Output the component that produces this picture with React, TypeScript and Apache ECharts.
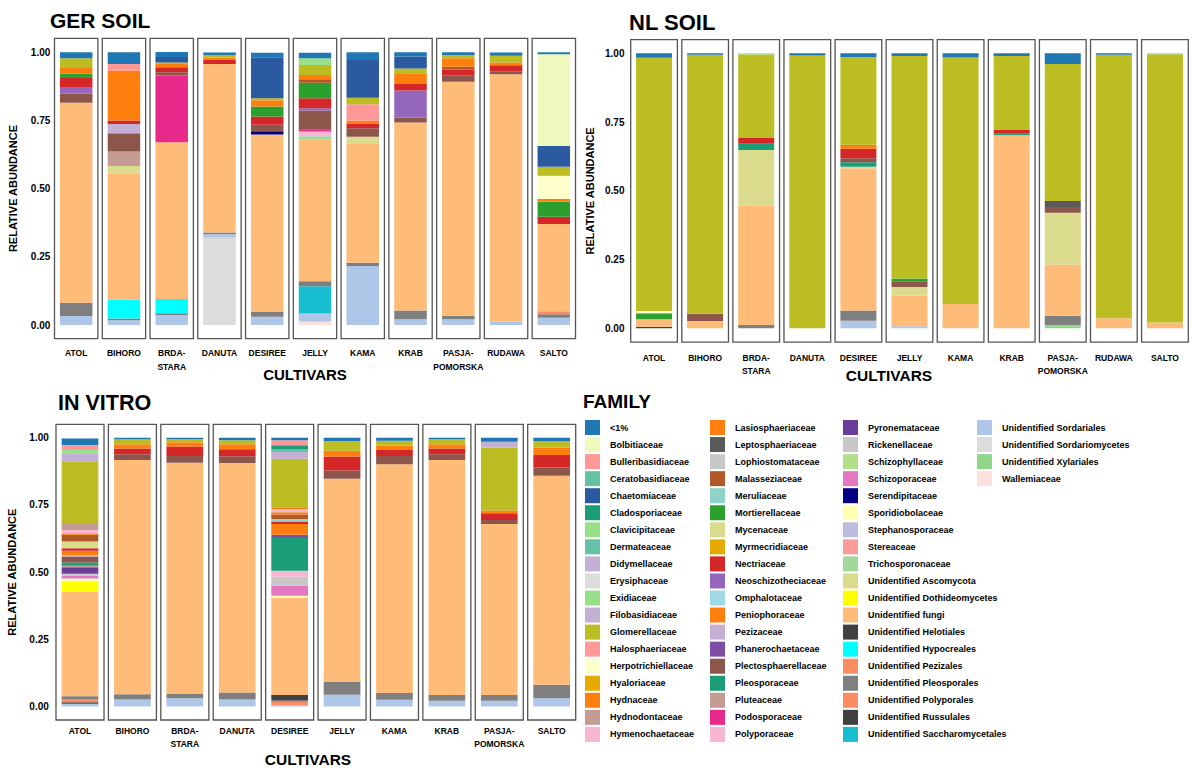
import React, { useEffect, useRef } from "react";
import * as echarts from "echarts";

// ---------- families (legend order = top-to-bottom order inside each bar) ----------
const FAMILIES = [
  "<1%", "Bolbitiaceae", "Bulleribasidiaceae", "Ceratobasidiaceae", "Chaetomiaceae",
  "Cladosporiaceae", "Clavicipitaceae", "Dermateaceae", "Didymellaceae", "Erysiphaceae",
  "Exidiaceae", "Filobasidiaceae", "Glomerellaceae", "Halosphaeriaceae", "Herpotrichiellaceae",
  "Hyaloriaceae", "Hydnaceae", "Hydnodontaceae", "Hymenochaetaceae",
  "Lasiosphaeriaceae", "Leptosphaeriaceae", "Lophiostomataceae", "Malasseziaceae", "Meruliaceae",
  "Mortierellaceae", "Mycenaceae", "Myrmecridiaceae", "Nectriaceae", "Neoschizotheciaceae",
  "Omphalotaceae", "Peniophoraceae", "Pezizaceae", "Phanerochaetaceae", "Plectosphaerellaceae",
  "Pleosporaceae", "Pluteaceae", "Podosporaceae", "Polyporaceae",
  "Pyronemataceae", "Rickenellaceae", "Schizophyllaceae", "Schizoporaceae", "Serendipitaceae",
  "Sporidiobolaceae", "Stephanosporaceae", "Stereaceae", "Trichosporonaceae",
  "Unidentified Ascomycota", "Unidentified Dothideomycetes", "Unidentified fungi",
  "Unidentified Helotiales", "Unidentified Hypocreales", "Unidentified Pezizales",
  "Unidentified Pleosporales", "Unidentified Polyporales", "Unidentified Russulales",
  "Unidentified Saccharomycetales",
  "Unidentified Sordariales", "Unidentified Sordariomycetes", "Unidentified Xylariales", "Wallemiaceae",
];

const FAMILY_COLORS = [
  "#1f77b4", "#f0f9bd", "#ff9896", "#66c2a5", "#2c5aa0",
  "#1b9e77", "#98df8a", "#66c2a5", "#c5b0d5", "#dcdcdc",
  "#98df8a", "#c5b0d5", "#bcbd22", "#ff9896", "#ffffcc",
  "#e6ab02", "#ff7f0e", "#c49c94", "#f7b6d2",
  "#ff7f0e", "#595959", "#c7c7c7", "#b15928", "#8dd3c7",
  "#2ca02c", "#dbdb8d", "#e6ab02", "#d62728", "#9467bd",
  "#9edae5", "#ff7f0e", "#c5b0d5", "#7e4fa5", "#8c564b",
  "#1b9e77", "#c49c94", "#e7298a", "#f7b6d2",
  "#6a3d9a", "#c7c7c7", "#b2df8a", "#e377c2", "#000080",
  "#ffffb3", "#bcbddc", "#fb9a99", "#a1d99b",
  "#dbdb8d", "#ffff00", "#ffbb78",
  "#404040", "#00ffff", "#fc8d62",
  "#7f7f7f", "#fc8d62", "#404040",
  "#17becf",
  "#aec7e8", "#dcdcdc", "#90d68a", "#fde0dd",
];

// ---------- categories & ticks ----------
const SOIL_CULTIVARS = ["ATOL", "BIHORO", "BRDA-\nSTARA", "DANUTA", "DESIREE", "JELLY", "KAMA", "KRAB", "PASJA-\nPOMORSKA", "RUDAWA", "SALTO"];
const VITRO_CULTIVARS = ["ATOL", "BIHORO", "BRDA-\nSTARA", "DANUTA", "DESIREE", "JELLY", "KAMA", "KRAB", "PASJA-\nPOMORSKA", "SALTO"];
const Y_TICKS = [0, 0.25, 0.5, 0.75, 1];
const PANEL_TITLES = ["GER SOIL", "NL SOIL", "IN VITRO"];

type Seg = [string, number];

// ---------- relative abundances (one list of [family, value] per cultivar) ----------
const GER_SOIL: Seg[][] = [
  [["<1%", 0.022], ["Glomerellaceae", 0.035], ["Hydnaceae", 0.021], ["Mortierellaceae", 0.016], ["Nectriaceae", 0.033], ["Neoschizotheciaceae", 0.024], ["Plectosphaerellaceae", 0.034], ["Unidentified fungi", 0.732], ["Unidentified Pleosporales", 0.049], ["Unidentified Sordariales", 0.033]],
  [["<1%", 0.043], ["Bulleribasidiaceae", 0.024], ["Hydnaceae", 0.183], ["Nectriaceae", 0.013], ["Pezizaceae", 0.033], ["Plectosphaerellaceae", 0.067], ["Pluteaceae", 0.053], ["Unidentified Ascomycota", 0.027], ["Unidentified fungi", 0.462], ["Unidentified Hypocreales", 0.07], ["Unidentified Pleosporales", 0.006], ["Unidentified Sordariales", 0.018]],
  [["<1%", 0.018], ["Chaetomiaceae", 0.02], ["Glomerellaceae", 0.006], ["Hydnaceae", 0.012], ["Nectriaceae", 0.018], ["Plectosphaerellaceae", 0.012], ["Podosporaceae", 0.244], ["Unidentified fungi", 0.575], ["Unidentified Hypocreales", 0.052], ["Unidentified Pleosporales", 0.006], ["Unidentified Sordariales", 0.037]],
  [["<1%", 0.01], ["Glomerellaceae", 0.008], ["Hydnaceae", 0.007], ["Nectriaceae", 0.017], ["Unidentified fungi", 0.617], ["Unidentified Pleosporales", 0.006], ["Unidentified Sordariales", 0.013], ["Unidentified Sordariomycetes", 0.32]],
  [["<1%", 0.018], ["Chaetomiaceae", 0.148], ["Glomerellaceae", 0.008], ["Hydnaceae", 0.022], ["Mortierellaceae", 0.037], ["Nectriaceae", 0.03], ["Plectosphaerellaceae", 0.024], ["Serendipitaceae", 0.012], ["Unidentified fungi", 0.65], ["Unidentified Pleosporales", 0.018], ["Unidentified Sordariales", 0.03]],
  [["<1%", 0.02], ["Clavicipitaceae", 0.024], ["Glomerellaceae", 0.037], ["Hydnaceae", 0.016], ["Malasseziaceae", 0.012], ["Mortierellaceae", 0.057], ["Nectriaceae", 0.037], ["Neoschizotheciaceae", 0.008], ["Plectosphaerellaceae", 0.071], ["Podosporaceae", 0.006], ["Polyporaceae", 0.017], ["Trichosporonaceae", 0.013], ["Unidentified fungi", 0.519], ["Unidentified Pleosporales", 0.018], ["Unidentified Saccharomycetales", 0.1], ["Unidentified Sordariales", 0.03], ["Wallemiaceae", 0.012]],
  [["<1%", 0.028], ["Chaetomiaceae", 0.138], ["Glomerellaceae", 0.024], ["Halosphaeriaceae", 0.061], ["Hydnaceae", 0.012], ["Nectriaceae", 0.015], ["Plectosphaerellaceae", 0.031], ["Unidentified Ascomycota", 0.027], ["Unidentified fungi", 0.435], ["Unidentified Pleosporales", 0.012], ["Unidentified Sordariales", 0.216]],
  [["<1%", 0.015], ["Chaetomiaceae", 0.044], ["Glomerellaceae", 0.018], ["Hydnaceae", 0.039], ["Nectriaceae", 0.024], ["Neoschizotheciaceae", 0.099], ["Plectosphaerellaceae", 0.018], ["Unidentified fungi", 0.689], ["Unidentified Pleosporales", 0.032], ["Unidentified Sordariales", 0.021]],
  [["<1%", 0.01], ["Glomerellaceae", 0.012], ["Hydnaceae", 0.031], ["Malasseziaceae", 0.01], ["Nectriaceae", 0.021], ["Plectosphaerellaceae", 0.024], ["Unidentified fungi", 0.857], ["Unidentified Pleosporales", 0.013], ["Unidentified Sordariales", 0.021]],
  [["<1%", 0.012], ["Glomerellaceae", 0.024], ["Hydnaceae", 0.01], ["Nectriaceae", 0.022], ["Plectosphaerellaceae", 0.011], ["Unidentified fungi", 0.907], ["Unidentified Sordariales", 0.012]],
  [["<1%", 0.007], ["Bolbitiaceae", 0.336], ["Chaetomiaceae", 0.076], ["Glomerellaceae", 0.033], ["Herpotrichiellaceae", 0.085], ["Hydnaceae", 0.01], ["Mortierellaceae", 0.055], ["Nectriaceae", 0.027], ["Unidentified fungi", 0.319], ["Unidentified Pezizales", 0.011], ["Unidentified Pleosporales", 0.013], ["Unidentified Sordariales", 0.027]],
];

const NL_SOIL: Seg[][] = [
  [["<1%", 0.016], ["Glomerellaceae", 0.921], ["Herpotrichiellaceae", 0.008], ["Mortierellaceae", 0.022], ["Unidentified fungi", 0.027], ["Unidentified Russulales", 0.006]],
  [["<1%", 0.005], ["Glomerellaceae", 0.942], ["Plectosphaerellaceae", 0.026], ["Unidentified fungi", 0.027]],
  [["Clavicipitaceae", 0.004], ["Glomerellaceae", 0.304], ["Nectriaceae", 0.021], ["Pleosporaceae", 0.022], ["Unidentified Ascomycota", 0.202], ["Unidentified fungi", 0.435], ["Unidentified Pleosporales", 0.012]],
  [["<1%", 0.008], ["Glomerellaceae", 0.992]],
  [["<1%", 0.013], ["Glomerellaceae", 0.319], ["Hydnaceae", 0.015], ["Nectriaceae", 0.034], ["Plectosphaerellaceae", 0.015], ["Pleosporaceae", 0.016], ["Unidentified Ascomycota", 0.006], ["Unidentified fungi", 0.517], ["Unidentified Pleosporales", 0.037], ["Unidentified Sordariales", 0.028]],
  [["<1%", 0.01], ["Glomerellaceae", 0.809], ["Mortierellaceae", 0.01], ["Plectosphaerellaceae", 0.021], ["Unidentified Ascomycota", 0.031], ["Unidentified fungi", 0.111], ["Unidentified Sordariales", 0.008]],
  [["<1%", 0.015], ["Glomerellaceae", 0.896], ["Unidentified fungi", 0.089]],
  [["<1%", 0.01], ["Glomerellaceae", 0.267], ["Nectriaceae", 0.015], ["Pleosporaceae", 0.006], ["Unidentified fungi", 0.702]],
  [["<1%", 0.039], ["Glomerellaceae", 0.498], ["Leptosphaeriaceae", 0.022], ["Plectosphaerellaceae", 0.021], ["Unidentified Ascomycota", 0.188], ["Unidentified fungi", 0.186], ["Unidentified Pleosporales", 0.034], ["Unidentified Xylariales", 0.012]],
  [["<1%", 0.005], ["Glomerellaceae", 0.958], ["Unidentified fungi", 0.037]],
  [["Exidiaceae", 0.003], ["Glomerellaceae", 0.976], ["Unidentified fungi", 0.021]],
];

const IN_VITRO: Seg[][] = [
  [["<1%", 0.024], ["Bulleribasidiaceae", 0.019], ["Clavicipitaceae", 0.012], ["Didymellaceae", 0.029], ["Glomerellaceae", 0.234], ["Hydnodontaceae", 0.022], ["Hymenochaetaceae", 0.012], ["Lasiosphaeriaceae", 0.006], ["Malasseziaceae", 0.025], ["Mycenaceae", 0.025], ["Nectriaceae", 0.009], ["Peniophoraceae", 0.016], ["Pezizaceae", 0.006], ["Plectosphaerellaceae", 0.022], ["Pleosporaceae", 0.012], ["Pluteaceae", 0.006], ["Pyronemataceae", 0.024], ["Rickenellaceae", 0.006], ["Schizoporaceae", 0.012], ["Sporidiobolaceae", 0.01], ["Unidentified Dothideomycetes", 0.04], ["Unidentified fungi", 0.388], ["Unidentified Pleosporales", 0.01], ["Unidentified Polyporales", 0.012], ["Unidentified Russulales", 0.006], ["Unidentified Sordariales", 0.01]],
  [["<1%", 0.006], ["Glomerellaceae", 0.018], ["Hydnaceae", 0.016], ["Nectriaceae", 0.021], ["Plectosphaerellaceae", 0.022], ["Unidentified fungi", 0.871], ["Unidentified Pleosporales", 0.02], ["Unidentified Sordariales", 0.026]],
  [["<1%", 0.006], ["Glomerellaceae", 0.011], ["Hydnaceae", 0.016], ["Nectriaceae", 0.035], ["Plectosphaerellaceae", 0.025], ["Unidentified fungi", 0.86], ["Unidentified Pleosporales", 0.016], ["Unidentified Sordariales", 0.031]],
  [["<1%", 0.009], ["Glomerellaceae", 0.015], ["Hydnaceae", 0.019], ["Nectriaceae", 0.026], ["Plectosphaerellaceae", 0.025], ["Unidentified fungi", 0.854], ["Unidentified Pleosporales", 0.026], ["Unidentified Sordariales", 0.026]],
  [["<1%", 0.009], ["Bulleribasidiaceae", 0.019], ["Cladosporiaceae", 0.016], ["Dermateaceae", 0.009], ["Didymellaceae", 0.025], ["Glomerellaceae", 0.181], ["Hydnaceae", 0.006], ["Hymenochaetaceae", 0.012], ["Lasiosphaeriaceae", 0.009], ["Malasseziaceae", 0.016], ["Meruliaceae", 0.01], ["Nectriaceae", 0.009], ["Peniophoraceae", 0.04], ["Phanerochaetaceae", 0.012], ["Pleosporaceae", 0.122], ["Polyporaceae", 0.022], ["Rickenellaceae", 0.034], ["Schizoporaceae", 0.037], ["Sporidiobolaceae", 0.006], ["Unidentified fungi", 0.363], ["Unidentified Helotiales", 0.019], ["Unidentified Pleosporales", 0.006], ["Unidentified Polyporales", 0.012], ["Unidentified Sordariales", 0.006]],
  [["<1%", 0.012], ["Glomerellaceae", 0.036], ["Hydnaceae", 0.022], ["Nectriaceae", 0.052], ["Plectosphaerellaceae", 0.031], ["Unidentified fungi", 0.756], ["Unidentified Pleosporales", 0.047], ["Unidentified Sordariales", 0.044]],
  [["<1%", 0.011], ["Glomerellaceae", 0.019], ["Hydnaceae", 0.016], ["Nectriaceae", 0.022], ["Plectosphaerellaceae", 0.031], ["Unidentified fungi", 0.851], ["Unidentified Pleosporales", 0.025], ["Unidentified Sordariales", 0.025]],
  [["<1%", 0.006], ["Glomerellaceae", 0.018], ["Hydnaceae", 0.016], ["Nectriaceae", 0.021], ["Plectosphaerellaceae", 0.022], ["Unidentified fungi", 0.874], ["Unidentified Pleosporales", 0.021], ["Unidentified Sordariales", 0.022]],
  [["<1%", 0.015], ["Didymellaceae", 0.021], ["Glomerellaceae", 0.235], ["Hydnaceae", 0.01], ["Nectriaceae", 0.025], ["Plectosphaerellaceae", 0.015], ["Unidentified fungi", 0.636], ["Unidentified Pleosporales", 0.021], ["Unidentified Sordariales", 0.022]],
  [["<1%", 0.012], ["Glomerellaceae", 0.025], ["Hydnaceae", 0.027], ["Nectriaceae", 0.047], ["Plectosphaerellaceae", 0.03], ["Unidentified fungi", 0.778], ["Unidentified Pleosporales", 0.05], ["Unidentified Sordariales", 0.031]],
];

// ---------- layout (styles/positions only) ----------
const FONT = "'Liberation Sans', Arial, Helvetica, sans-serif";
const AXIS_MIN = -0.05;
const AXIS_MAX = 1.05;

const PANELS = [
  { bars: GER_SOIL, cats: SOIL_CULTIVARS, left: 52.3, top: 38.4, width: 525.4, height: 300.3, barWidth: 32.5, yLabelMargin: 2, yNameGap: 34, xLabelMargin: 8,
    title: { x: 50, y: 20, size: 21 }, xName: { x: 305, y: 374, size: 15 } },
  { bars: NL_SOIL, cats: SOIL_CULTIVARS, left: 628.5, top: 39.6, width: 562, height: 302.5, barWidth: 36, yLabelMargin: 4, yNameGap: 33.5, xLabelMargin: 9,
    title: { x: 629, y: 22, size: 22 }, xName: { x: 889, y: 375.5, size: 15.5 } },
  { bars: IN_VITRO, cats: VITRO_CULTIVARS, left: 53.8, top: 424.3, width: 524.1, height: 295.7, barWidth: 36.7, yLabelMargin: 5, yNameGap: 36, xLabelMargin: 4,
    title: { x: 58, y: 403, size: 21.5 }, xName: { x: 308, y: 759, size: 15.5 } },
];

const LEGEND_COLUMNS = [
  { from: 0, to: 19, left: 585 },
  { from: 19, to: 38, left: 710 },
  { from: 38, to: 57, left: 843 },
  { from: 57, to: 61, left: 977 },
];

function buildOption(): any {
  const grid: any[] = [];
  const xAxis: any[] = [];
  const yAxis: any[] = [];
  const series: any[] = [];
  const graphic: any[] = [];
  const stackOrder = FAMILIES.map((f, i) => i).reverse(); // bottom of bar first

  PANELS.forEach((p, pi) => {
    grid.push({ left: p.left, top: p.top, width: p.width, height: p.height, containLabel: false });
    xAxis.push({
      type: "category",
      gridIndex: pi,
      data: p.cats,
      axisLine: { show: false },
      axisTick: { show: false },
      splitLine: { show: false },
      axisLabel: {
        interval: 0,
        margin: p.xLabelMargin,
        fontSize: 8.5,
        fontWeight: "bold",
        fontFamily: FONT,
        color: "#000",
        lineHeight: 13.5,
      },
    });
    yAxis.push({
      type: "value",
      gridIndex: pi,
      min: AXIS_MIN,
      max: AXIS_MAX,
      axisLine: { show: false },
      axisTick: { show: false },
      splitLine: { show: false },
      axisLabel: {
        customValues: Y_TICKS,
        formatter: (v: number) => v.toFixed(2),
        margin: p.yLabelMargin,
        fontSize: 10,
        fontWeight: "bold",
        fontFamily: FONT,
        color: "#000",
      },
      name: "RELATIVE ABUNDANCE",
      nameLocation: "middle",
      nameGap: p.yNameGap,
      nameTextStyle: { fontSize: 11, fontWeight: "bold", fontFamily: FONT, color: "#000" },
    });

    stackOrder.forEach((fi) => {
      const fam = FAMILIES[fi];
      series.push({
        type: "bar",
        name: fam,
        xAxisIndex: pi,
        yAxisIndex: pi,
        stack: "panel" + pi,
        barWidth: p.barWidth,
        silent: true,
        itemStyle: { color: FAMILY_COLORS[fi] },
        data: p.bars.map((bar) => {
          const seg = bar.find((s) => s[0] === fam);
          return seg ? seg[1] : "-";
        }),
      });
    });

    series.push({
      type: "custom",
      name: "frame" + pi,
      xAxisIndex: pi,
      yAxisIndex: pi,
      silent: true,
      clip: false,
      z: 10,
      data: p.cats.map((c, i) => [i, 0]),
      renderItem: (params: any, api: any) => {
        const i = api.value(0);
        const top = api.coord([i, AXIS_MAX]);
        const bot = api.coord([i, AXIS_MIN]);
        const band = api.size([1, 0])[0];
        const w = band - 4.4;
        return {
          type: "rect",
          shape: { x: top[0] - w / 2, y: top[1], width: w, height: bot[1] - top[1] },
          style: { fill: "none", stroke: "#555555", lineWidth: 1.3 },
        };
      },
    });

    graphic.push({
      type: "text",
      x: p.title.x,
      y: p.title.y,
      style: {
        text: PANEL_TITLES[pi],
        font: `bold ${p.title.size}px ${FONT}`,
        fill: "#000",
        textAlign: "left",
        textVerticalAlign: "middle",
        align: "left",
        verticalAlign: "middle",
      },
    });
    graphic.push({
      type: "text",
      x: p.xName.x,
      y: p.xName.y,
      style: {
        text: "CULTIVARS",
        font: `bold ${p.xName.size}px ${FONT}`,
        fill: "#000",
        textAlign: "center",
        textVerticalAlign: "middle",
        align: "center",
        verticalAlign: "middle",
      },
    });
  });

  graphic.push({
    type: "text",
    x: 583,
    y: 401,
    style: {
      text: "FAMILY",
      font: `bold 19px ${FONT}`,
      fill: "#000",
      textAlign: "left",
      textVerticalAlign: "middle",
      align: "left",
      verticalAlign: "middle",
    },
  });

  const legend = LEGEND_COLUMNS.map((col) => ({
    show: true,
    orient: "vertical",
    left: col.left,
    top: 420,
    padding: 0,
    itemWidth: 15,
    itemHeight: 15,
    itemGap: 2.05,
    icon: "rect",
    selectedMode: false,
    data: FAMILIES.slice(col.from, col.to),
    textStyle: {
      fontSize: 9,
      fontWeight: "bold",
      fontFamily: FONT,
      color: "#000",
      padding: [0, 0, 0, 5],
    },
  }));

  return {
    animation: false,
    backgroundColor: "#ffffff",
    grid,
    xAxis,
    yAxis,
    legend,
    series,
    graphic,
  };
}

export default function App() {
  const ref = useRef<HTMLDivElement>(null);
  useEffect(() => {
    if (!ref.current) return;
    const chart = echarts.init(ref.current, undefined, { renderer: "svg" });
    chart.setOption(buildOption());
    return () => chart.dispose();
  }, []);
  return (
    <div
      ref={ref}
      style={{ position: "absolute", left: 0, top: 0, width: 1200, height: 777, background: "#fff" }}
    />
  );
}
